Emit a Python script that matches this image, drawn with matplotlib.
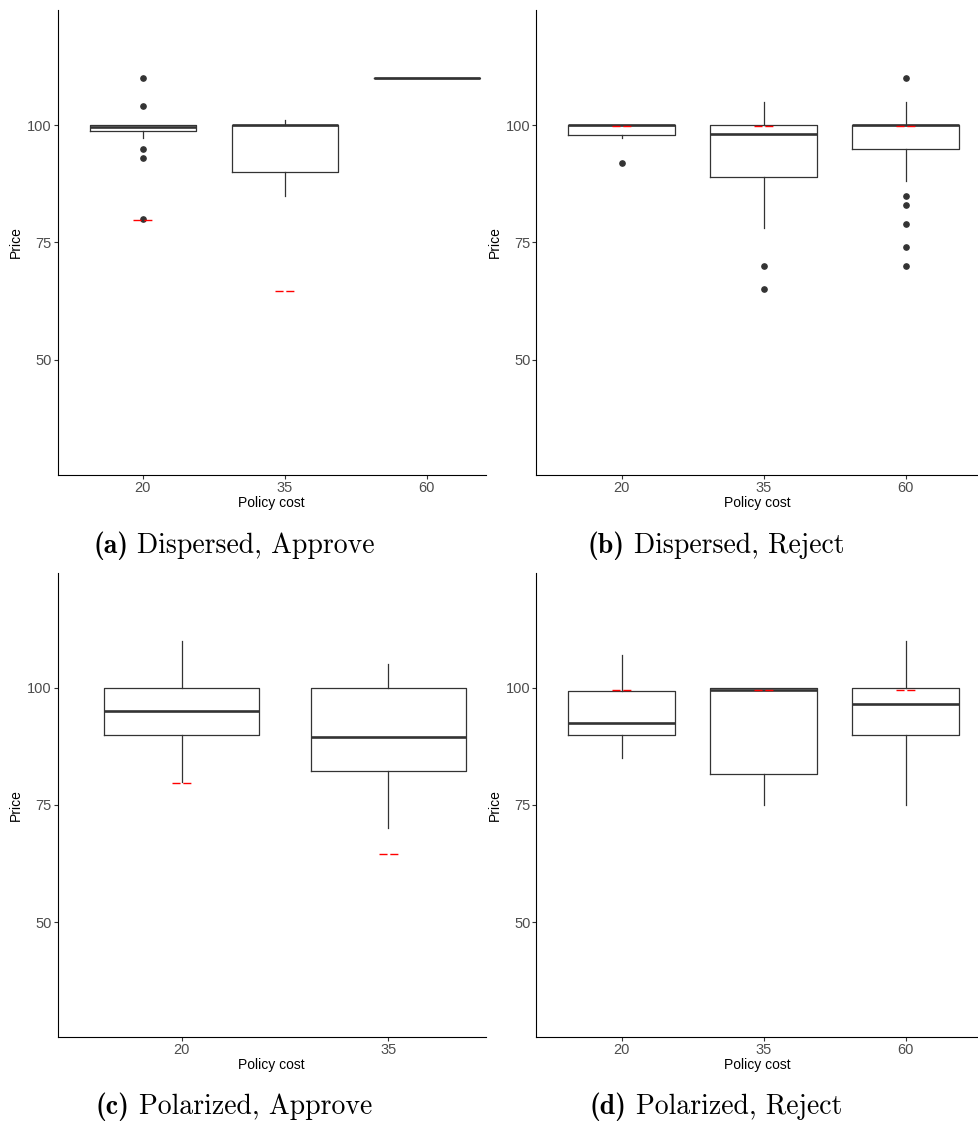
import matplotlib
matplotlib.use("Agg")
import matplotlib.pyplot as plt

plt.rcParams['font.family'] = 'Liberation Sans'

# Policy cost categories for each panel
costs_a = ["20", "35", "60"]
costs_b = ["20", "35", "60"]
costs_c = ["20", "35"]
costs_d = ["20", "35", "60"]

# Box stats: (whisker low, q1, median, q3, whisker high)
box_a = [(97.2, 98.8, 99.5, 100, 100), (85, 90, 100, 100, 101), (110, 110, 110, 110, 110)]
box_b = [(97.2, 97.8, 100, 100, 100), (78, 89, 98, 100, 105), (88, 95, 100, 100, 105)]
box_c = [(80, 90, 95, 100, 110), (70, 82.25, 89.5, 100, 105)]
box_d = [(85, 90, 92.5, 99.3, 107), (75, 81.5, 99.6, 100, 100), (75, 90, 96.5, 100, 110)]

# Outliers
fliers_a = [[110, 104, 95, 93, 80], [], []]
fliers_b = [[92], [70, 65], [110, 85, 83, 79, 74, 70]]
fliers_c = [[], []]
fliers_d = [[], [], []]

# Red dashed reference marks (None = no mark)
theory_a = [79.7, 64.6, None]
theory_b = [99.7, 99.7, 99.7]
theory_c = [79.6, 64.6]
theory_d = [99.6, 99.6, 99.6]

cap_tags = ["(a)", "(b)", "(c)", "(d)"]
cap_texts = ["Dispersed, Approve", "Dispersed, Reject", "Polarized, Approve", "Polarized, Reject"]

W, H = 979, 1124
fig = plt.figure(figsize=(W / 100, H / 100), dpi=100)


def px_axes(left, top, right, bottom):
    return fig.add_axes([left / W, 1 - bottom / H, (right - left) / W, (bottom - top) / H])


def draw_panel(ax, cats, boxes, fliers, theory, xmax):
    stats = []
    for (lo, q1, med, q3, hi), fl in zip(boxes, fliers):
        stats.append(dict(whislo=lo, q1=q1, med=med, q3=q3, whishi=hi, fliers=fl))
    pos = list(range(1, len(cats) + 1))
    ax.bxp(stats, positions=pos, widths=0.75, showcaps=False,
           boxprops=dict(color='#333333', lw=0.9),
           whiskerprops=dict(color='#333333', lw=0.9),
           medianprops=dict(color='#333333', lw=1.9),
           flierprops=dict(marker='o', markerfacecolor='#333333',
                           markeredgecolor='#333333', markersize=3.8))
    ax.set_xlim(0.4, xmax)
    ax.set_ylim(25.5, 124.5)
    # red marks are a fixed ~19 px wide
    half = 9.5 * (xmax - 0.4) / ax.bbox.width
    for p, t in zip(pos, theory):
        if t is None:
            continue
        ax.hlines(t, p - half, p + half, colors='red', lw=1.0,
                  linestyles=(0, (5.8, 2.0)), zorder=4)
    ax.set_xticks(pos, cats)
    ax.set_yticks([50, 75, 100])
    for s in ['top', 'right']:
        ax.spines[s].set_visible(False)
    for s in ['left', 'bottom']:
        ax.spines[s].set_color('black')
        ax.spines[s].set_linewidth(0.8)
    ax.tick_params(length=2.75, width=0.8, color='#333333', labelcolor='#4D4D4D',
                   labelsize=10.5, pad=1.5)
    ax.set_xlabel("Policy cost", fontsize=10, labelpad=0.5)
    ax.set_ylabel("Price", fontsize=10, labelpad=3)


ax_a = px_axes(57.7, 10, 485.7, 475)
ax_b = px_axes(536.3, 10, 979, 475)
ax_c = px_axes(57.7, 572.7, 485.7, 1037.3)
ax_d = px_axes(536.3, 572.7, 979, 1037.3)

draw_panel(ax_a, costs_a, box_a, fliers_a, theory_a, 3.415)
draw_panel(ax_b, costs_b, box_b, fliers_b, theory_b, 3.516)
draw_panel(ax_c, costs_c, box_c, fliers_c, theory_c, 2.471)
draw_panel(ax_d, costs_d, box_d, fliers_d, theory_d, 3.516)

# captions: bold tag + roman text, centred under each panel
cap_size = 20
renderer = fig.canvas.get_renderer()
gap = cap_size * 0.333 * 100 / 72
for tag, txt, (x, y) in zip(cap_tags, cap_texts, [(234, 553), (716, 553), (234, 1114), (716, 1114)]):
    t1 = fig.text(0, 1 - y / H, tag, ha='left', va='baseline', fontsize=cap_size, family='cmb10')
    t2 = fig.text(0, 1 - y / H, txt, ha='left', va='baseline', fontsize=cap_size, family='cmr10')
    w1 = t1.get_window_extent(renderer).width
    w2 = t2.get_window_extent(renderer).width
    x0 = x - (w1 + gap + w2) / 2
    t1.set_x(x0 / W)
    t2.set_x((x0 + w1 + gap) / W)

fig.savefig("out.png", dpi=100)
